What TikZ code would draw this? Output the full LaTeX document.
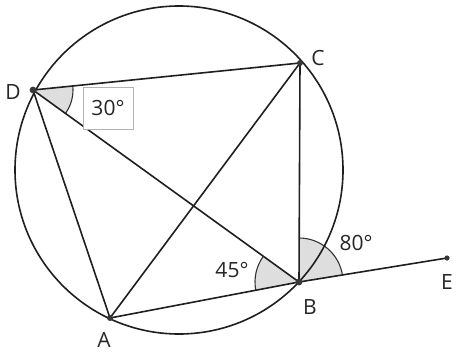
\documentclass[tikz,border=0pt]{standalone}
\usepackage{fontspec}
\setmainfont{Open Sans}
\usetikzlibrary{angles}
\begin{document}
\begin{tikzpicture}[x=1pt,y=1pt,
  ln/.style={line width=1.6pt, draw=black!88},
  angfill/.style={draw=black!80, line width=1.1pt, fill=black!13},
  ptdot/.style={fill=black!78},
  lbl/.style={font=\fontsize{21}{24}\selectfont, text=black!85, inner sep=1pt},
  boxlbl/.style={lbl, draw=black!30, line width=0.9pt, minimum width=50pt, minimum height=42pt, fill=white}]
\useasboundingbox (0,0) rectangle (460,-353);
\coordinate (O) at (179,-170);
\coordinate (D) at (33,-90);
\coordinate (C) at (300,-63);
\coordinate (B) at (299,-282);
\coordinate (A) at (110,-318);
\coordinate (E) at (447,-258);
% angle fills
\pic[angfill, angle radius=40pt] {angle = B--D--C};
\pic[angfill, angle radius=44pt] {angle = D--B--A};
\pic[angfill, angle radius=44pt] {angle = E--B--C};
% circle
\draw[ln] (O) circle (164);
% segments
\draw[ln] (D) -- (C);
\draw[ln] (D) -- (B);
\draw[ln] (D) -- (A);
\draw[ln] (A) -- (C);
\draw[ln] (C) -- (B);
\draw[ln] (A) -- (B);
\draw[ln] (B) -- (E);
% dots
\fill[ptdot] (D) circle (3.4);
\fill[ptdot] (C) circle (3);
\fill[ptdot] (B) circle (3.4);
\fill[ptdot] (A) circle (3);
\fill[ptdot] (E) circle (2.6);
% labels
\node[lbl] (lD) at (13,-92) {D};
\node[lbl] (lC) at (318,-58) {C};
\node[lbl] (lB) at (310,-307) {B};
\node[lbl] (lA) at (104,-340) {A};
\node[lbl] (lE) at (447,-282) {E};
\node[boxlbl] (l30) at (108,-108) {30°};
\node[lbl] (l45) at (232,-270) {45°};
\node[lbl] (l80) at (356,-243) {80°};
\end{tikzpicture}
\end{document}
